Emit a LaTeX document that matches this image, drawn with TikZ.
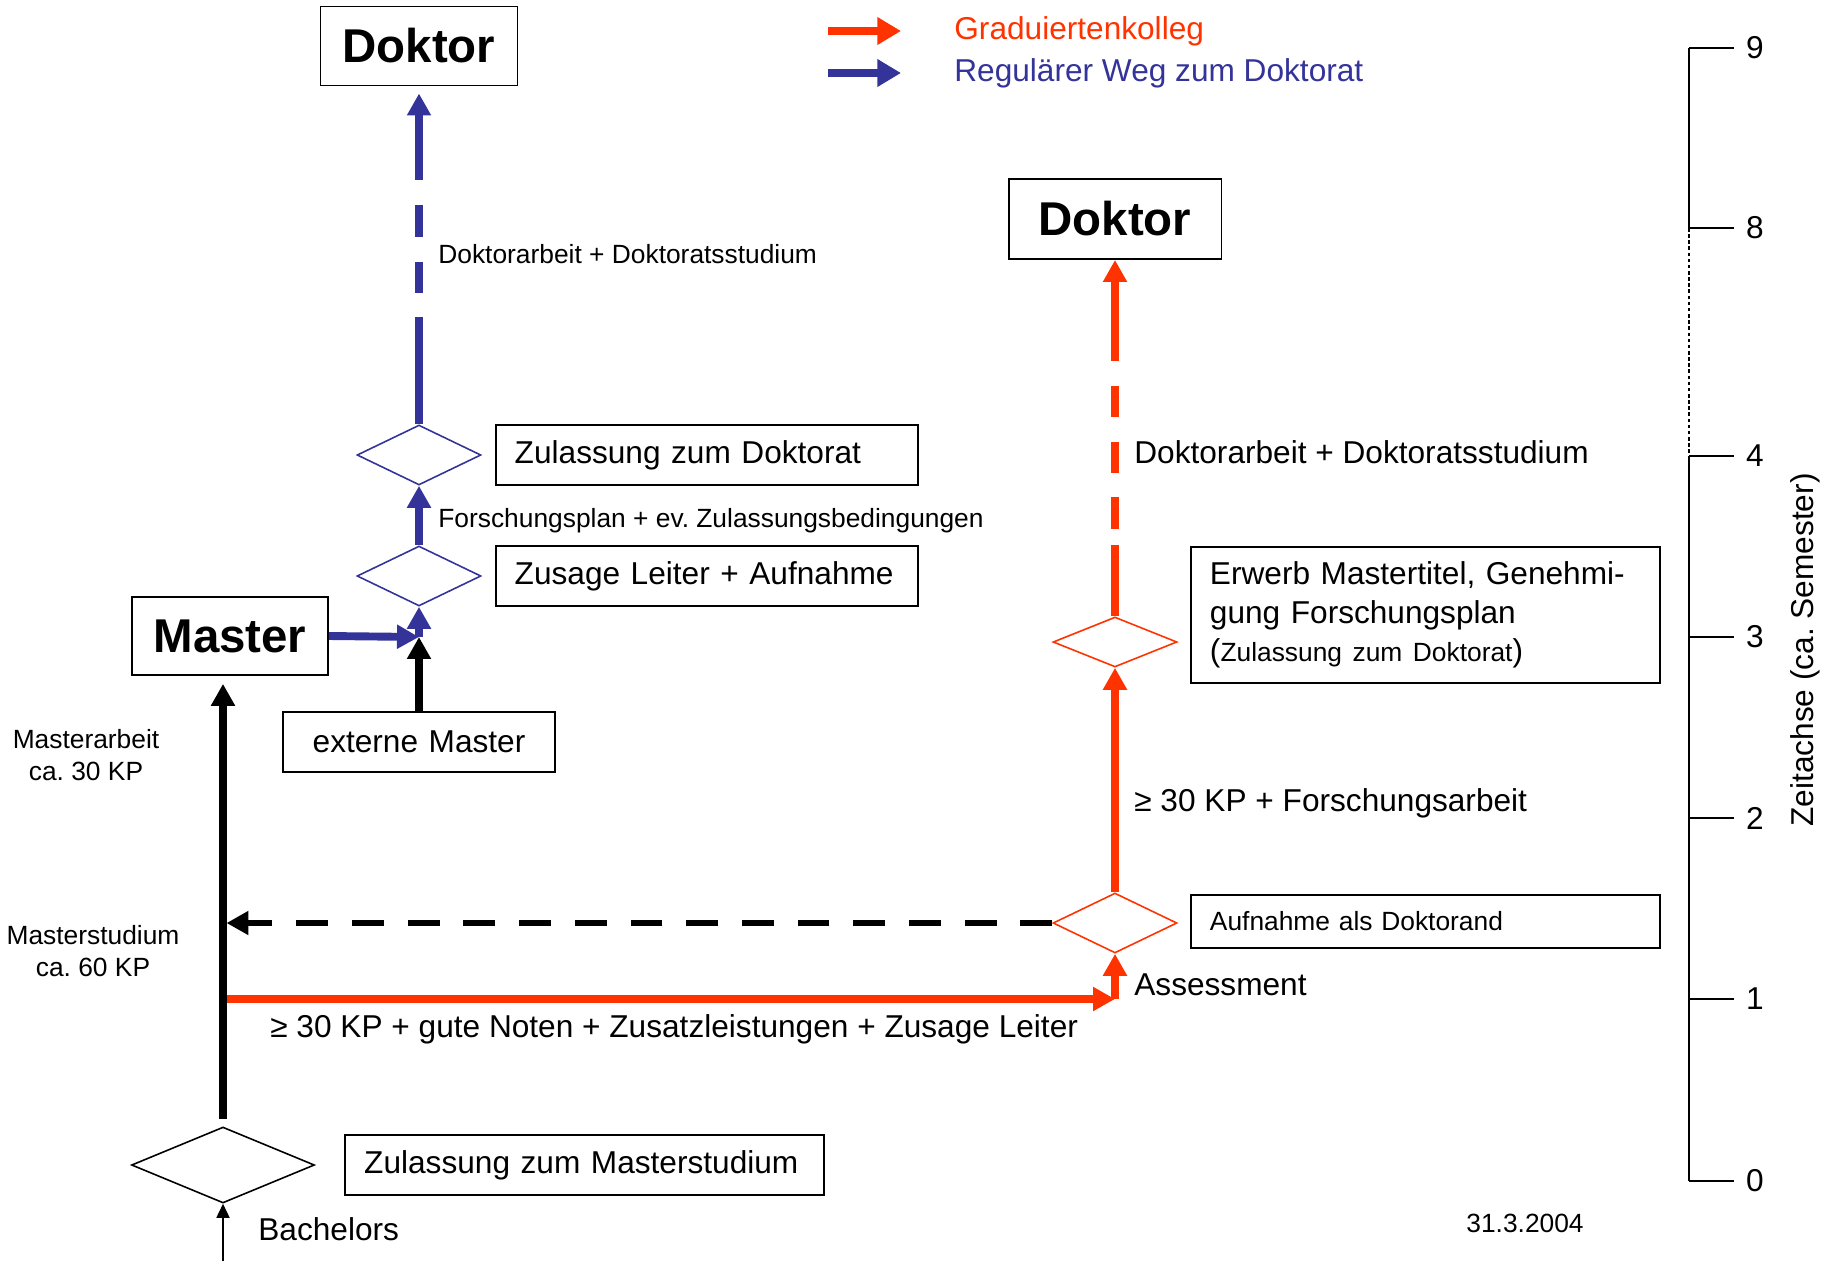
\documentclass[tikz,border=0pt]{standalone}
\usepackage{fontspec}
\setmainfont{Liberation Sans}
\usetikzlibrary{shapes.geometric,arrows.meta,positioning}
\definecolor{kollegred}{HTML}{FF3300}
\definecolor{regblue}{HTML}{333399}
\newcommand{\lblfont}{\fontsize{18pt}{22pt}\selectfont}
\newcommand{\smlfont}{\fontsize{15pt}{18pt}\selectfont}
\newcommand{\ttlfont}{\fontsize{27pt}{32pt}\selectfont\bfseries}
\frenchspacing

\begin{document}
\begin{tikzpicture}[x=0.02cm, y=-0.02cm]
% Define styles
\tikzstyle{titlebox} = [rectangle, draw=black, line width=1.1pt, inner sep=0pt, font=\ttlfont]
\tikzstyle{infobox} = [rectangle, draw=black, line width=1.1pt, inner xsep=0.38cm, inner ysep=0pt, align=left, font=\lblfont]
\tikzstyle{decision} = [diamond, line width=0.9pt, inner sep=0pt, minimum width=2.48cm, minimum height=1.2cm]
\tikzstyle{note} = [inner sep=0pt, anchor=west, font=\lblfont]
\tikzstyle{smallnote} = [note, font=\smlfont]
\tikzstyle{bluearrow} = [regblue, line width=4.5pt, -{Triangle[length=12.5pt,width=13pt]}]
\tikzstyle{redarrow} = [kollegred, line width=4.2pt, -{Triangle[length=12.5pt,width=13pt]}]
\tikzstyle{blackarrow} = [black, line width=4.5pt, -{Triangle[length=12.5pt,width=13pt]}]
\tikzstyle{legendarrow} = [line width=4.5pt, -{Triangle[length=13.5pt,width=15pt]}]

\useasboundingbox (0,0) rectangle (1828,1261);

% Create nodes
\node (doktorL) [titlebox, minimum width=3.94cm, minimum height=1.58cm] at (419,46) {Doktor};
\node (doktorR) [titlebox, minimum width=4.26cm, minimum height=1.6cm] at (1115,219) {Doktor};
\node (master) [titlebox, minimum width=3.92cm, minimum height=1.56cm] at (230,636) {Master};

% Decisions
\node (dz) [decision, draw=regblue] at (419,455) {};
\node (dzu) [decision, draw=regblue] at (419,576) {};
\node (de) [decision, draw=kollegred, minimum height=1cm] at (1115,642) {};
\node (da) [decision, draw=kollegred] at (1115,923) {};
\node (dm) [decision, draw=black, minimum width=3.66cm, minimum height=1.52cm] at (223,1165) {};

% Boxes next to the decisions
\node (zuldok) [infobox, minimum width=8.44cm, minimum height=1.2cm, text width=7.68cm, right=0.26cm of dz] {Zulassung zum Doktorat};
\node (zusage) [infobox, minimum width=8.44cm, minimum height=1.2cm, text width=7.68cm, right=0.26cm of dzu] {Zusage Leiter + Aufnahme};
\node (erwerb) [infobox, anchor=north west, minimum width=9.38cm, minimum height=2.72cm, text width=8.62cm] at (1190,546) {Erwerb Mastertitel, Genehmi-\\gung Forschungsplan\\({\smlfont Zulassung zum Doktorat})};
\node (aufnahme) [infobox, anchor=north west, font=\smlfont, minimum width=9.38cm, minimum height=1.06cm, text width=8.62cm] at (1190,894) {Aufnahme als Doktorand};
\node (zulmas) [infobox, minimum width=9.58cm, minimum height=1.2cm, text width=8.82cm, right=0.58cm of dm] {Zulassung zum Masterstudium};
\node (extern) [infobox, align=center, minimum width=5.44cm, minimum height=1.2cm, text width=4.68cm] at (419,742) {externe Master};

% Labels
\node (lbldokL) [smallnote] at (438,254) {Doktorarbeit + Doktoratsstudium};
\node (lblforsch) [smallnote] at (438,521) {Forschungsplan + ev. Zulassungsbedingungen};
\node (lbldokR) [note] at (1134,452) {Doktorarbeit + Doktoratsstudium};
\node (lblforschR) [note] at (1134,803) {≥ 30 KP + Forschungsarbeit};
\node (assess) [note] at (1134,985) {Assessment};
\node (lblnoten) [note] at (270,1029) {≥ 30 KP + gute Noten + Zusatzleistungen + Zusage Leiter};
\node (bachelors) [note] at (258,1229) {Bachelors};
\node (marbeit) [smallnote, anchor=center, align=center] at (86,755) {Masterarbeit\\ca. 30 KP};
\node (mstudium) [smallnote, anchor=center, align=center] at (93,951) {Masterstudium\\ca. 60 KP};
\node (datum) [smallnote, anchor=center] at (1525,1223) {31.3.2004};

% Legend
\coordinate (lgred1) at (828,31);
\coordinate (lgred2) at (901,31);
\coordinate (lgblue1) at (828,73);
\coordinate (lgblue2) at (901,73);
\node (lgredtext) [note, text=kollegred] at (954,31) {Graduiertenkolleg};
\node (lgbluetext) [note, text=regblue] at (954,73) {Regulärer Weg zum Doktorat};
\draw [legendarrow, kollegred] (lgred1) -- (lgred2);
\draw [legendarrow, regblue] (lgblue1) -- (lgblue2);

% Time axis
\foreach \v/\yy in {0/1181,1/999,2/818,3/637,4/456,8/228,9/48} {
  \coordinate (tick\v) at (1689,\yy);
  \node (num\v) [note, anchor=center] at (1755,\yy) {\v};
  \draw [line width=0.7pt] (tick\v) -- ++(45,0);
}
\draw [line width=1.2pt] (tick9) -- (tick8);
\draw [line width=0.8pt, dash pattern=on 2pt off 1.5pt] (tick8) -- (tick4);
\draw [line width=1.2pt] (tick4) -- (tick0);
\node (zeitachse) [note, anchor=center, rotate=90] at (1805,650) {Zeitachse (ca. Semester)};

% Draw arrows
\coordinate (junction) at (419,637);
\coordinate (redstart) at (223,999);
\coordinate (redcorner) at (1115,999);
\coordinate (bachelor) at (223,1261);

\draw [redarrow] (redstart) -- (redcorner);
\draw [redarrow] (redcorner) -- (da.south);
\draw [redarrow] (da.north) -- (de.south);
\draw [redarrow, dash pattern=on 40.8pt off 9.1pt on 18.1pt off 13.6pt on 17.6pt off 14.2pt on 17.6pt off 14.2pt on 200pt off 1pt] (de.north) -- (doktorR.south);

\draw [bluearrow, dash pattern=on 61.2pt off 13.6pt on 17.6pt off 14.2pt on 18.1pt off 14.2pt on 200pt off 1pt, shorten >=4pt] (dz.north) -- (doktorL.south);
\draw [bluearrow] (dzu.north) -- (dz.south);
\draw [blackarrow] (extern.north) -- (junction);
\draw [bluearrow] (master.east) -- (junction);
\draw [bluearrow] (junction) -- (dzu.south);

\draw [blackarrow, shorten <=4pt, shorten >=4.5pt] (dm.north) -- (dm.north |- master.south);
\draw [black, line width=0.7pt, -{Triangle[length=8pt,width=7.5pt]}] (bachelor) -- (dm.south);
\draw [blackarrow, line width=3.7pt, dash pattern=on 18.1pt off 13.6pt, shorten >=2pt] (da.west) -- (da.west -| redstart);
\end{tikzpicture}
\end{document}
